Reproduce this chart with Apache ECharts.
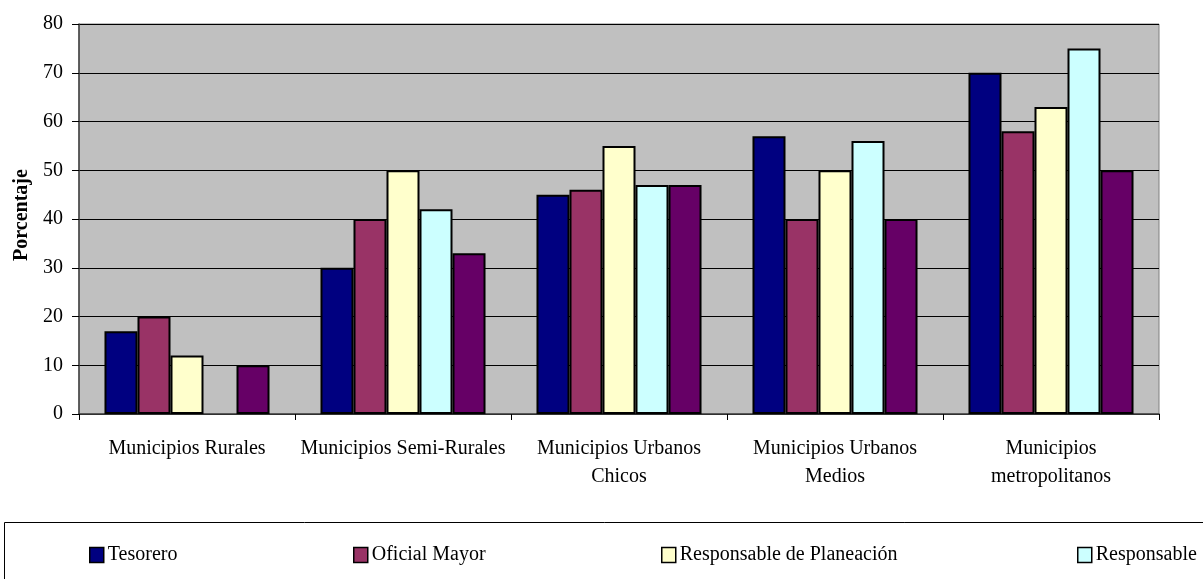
<!DOCTYPE html>
<html><head><meta charset="utf-8">
<script src="https://cdn.jsdelivr.net/npm/echarts@6/dist/echarts.min.js"></script>
<style>html,body{margin:0;padding:0;background:#fff}#c{width:1203px;height:579px}</style>
</head><body><div id="c"></div>
<script>
const categories = ["Municipios Rurales", "Municipios Semi-Rurales", "Municipios Urbanos\nChicos", "Municipios Urbanos\nMedios", "Municipios\nmetropolitanos"];
const seriesNames = ["Tesorero", "Oficial Mayor", "Responsable de Planeación", "Responsable", "Otro responsable"];
const tesorero = [17, 30, 45, 57, 70];
const oficialMayor = [20, 40, 46, 40, 58];
const planeacion = [12, 50, 55, 50, 63];
const responsable = [null, 42, 47, 56, 75];
const otro = [10, 33, 47, 40, 50];
const yTicks = [0, 10, 20, 30, 40, 50, 60, 70, 80];
const colors = ["#000080", "#993366", "#FFFFCC", "#CCFFFF", "#660066"];
const values = [tesorero, oficialMayor, planeacion, responsable, otro];

const font = "'Liberation Serif', 'Times New Roman', serif";
const chart = echarts.init(document.getElementById('c'));
const legendLefts = [89, 353, 661, 1077];
chart.setOption({
  animation: false,
  grid: { left: 79, right: 44, top: 24, bottom: 165, show: true, backgroundColor: '#C0C0C0', borderColor: '#808080', borderWidth: 1 },
  legend: legendLefts.map((l, i) => ({
    data: [seriesNames[i]], left: l, top: 545, padding: 0, itemWidth: 14, itemHeight: 15, itemGap: 0,
    icon: 'rect', selectedMode: false,
    textStyle: { fontFamily: font, fontSize: 20, color: '#000', padding: [0, 0, 0, -1] },
    itemStyle: { borderColor: '#000', borderWidth: 1.5 }
  })),
  graphic: [{ type: 'rect', left: 2, top: 520, shape: { width: 1230, height: 90 }, style: { fill: 'none', stroke: '#000', lineWidth: 1 }, silent: true }],
  xAxis: {
    type: 'category', data: categories,
    axisLine: { lineStyle: { color: '#404040', width: 1.5 } },
    axisTick: { show: true, length: 6, lineStyle: { color: '#000' } },
    axisLabel: { fontFamily: font, fontSize: 20, color: '#000', margin: 21, lineHeight: 28, interval: 0 }
  },
  yAxis: {
    type: 'value', min: 0, max: 80, interval: 10,
    name: 'Porcentaje', nameLocation: 'middle', nameGap: 46,
    nameTextStyle: { fontFamily: font, fontSize: 20, fontWeight: 'bold', color: '#000', padding: [0, 0, 0, 8] },
    axisLine: { show: true, lineStyle: { color: '#404040', width: 1.5 } },
    axisTick: { show: true, length: 7, lineStyle: { color: '#000' } },
    axisLabel: { fontFamily: font, fontSize: 20, color: '#000', margin: 16, formatter: v => yTicks.includes(v) ? String(v) : '' },
    splitLine: { lineStyle: { color: '#000', width: 1 } }
  },
  series: values.map((d, i) => ({
    name: seriesNames[i], type: 'bar', data: d,
    barGap: '0%', barCategoryGap: '23.6%',
    itemStyle: { color: colors[i], borderColor: '#000', borderWidth: 2 }
  }))
});
</script></body></html>
